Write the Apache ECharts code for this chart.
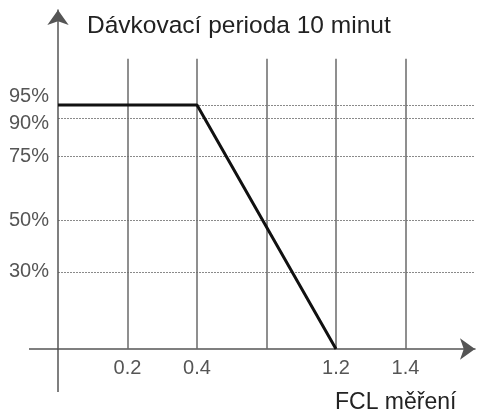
<!DOCTYPE html>
<html>
<head>
<meta charset="utf-8">
<script src="https://cdn.jsdelivr.net/npm/echarts@6/dist/echarts.min.js"></script>
<style>
  html, body { margin: 0; padding: 0; background: #fff; }
  #chart { width: 477px; height: 412px; }
</style>
</head>
<body>
<div id="chart"></div>
<script>
  // x grid positions (unlabeled ones left blank, as in the picture)
  const xLabels = ['', '0.2', '0.4', '', '1.2', '1.4', ''];
  // dosing share (%) at each x position, null = no point (line is connected)
  const dose = [95, 95, 95, null, 0, null, null];
  // percent levels marked on the y axis
  const yLevels = [30, 50, 75, 90, 95];
  // vertical grid lines: indexes into xLabels and their top value
  const vLines = [1, 2, 3, 4, 5];
  const vTop = 113;

  const chart = echarts.init(document.getElementById('chart'));
  const font = 'Liberation Sans, Arial, sans-serif';
  const axisColor = '#555';
  const yMax = 132;

  const labelStyle = {
    margin: 9,
    hideOverlap: false,
    fontFamily: font,
    fontSize: 20,
    color: '#555'
  };

  chart.setOption({
    animation: false,
    title: [{
      text: 'Dávkovací perioda 10 minut',
      left: 82,
      top: 9,
      textStyle: { fontFamily: font, fontSize: 24.5, fontWeight: 'normal', color: '#222' }
    }, {
      text: 'FCL měření',
      left: 330,
      top: 386,
      textStyle: { fontFamily: font, fontSize: 23, fontWeight: 'normal', color: '#222' }
    }],
    grid: { left: 58, right: 2, top: 10, bottom: 63, outerBoundsMode: 'none' },
    xAxis: {
      type: 'category',
      data: xLabels,
      boundaryGap: false,
      axisLine: {
        symbol: ['none', 'arrow'],
        symbolSize: [16, 15],
        lineStyle: { color: axisColor, width: 1.5 }
      },
      axisTick: { show: false },
      axisLabel: { interval: 0, margin: 9, fontFamily: font, fontSize: 20, color: '#555', hideOverlap: false },
      splitLine: { show: false }
    },
    yAxis: [{
      type: 'value',
      min: 0,
      max: yMax,
      axisLine: {
        show: true,
        symbol: ['none', 'arrow'],
        symbolSize: [16, 15],
        lineStyle: { color: axisColor, width: 1.5 }
      },
      axisTick: { show: false, customValues: yLevels },
      axisLabel: Object.assign({
        customValues: yLevels.slice(0, -1),
        formatter: v => (v === 90 ? '{lo|' + v + '%}' : v + '%'),
        rich: { lo: { fontFamily: font, fontSize: 20, color: '#555', padding: [12, 0, 0, 0] } }
      }, labelStyle),
      splitLine: {
        show: true,
        lineStyle: { color: '#8a8a8a', width: 1, type: [2, 1] }
      }
    }, {
      // top level label sits on its own axis so it is not dropped as overlapping
      type: 'value',
      position: 'left',
      min: 0,
      max: yMax,
      axisLine: { show: false },
      axisTick: { show: false, customValues: yLevels.slice(-1) },
      splitLine: { show: false },
      axisLabel: Object.assign({
        customValues: yLevels.slice(-1),
        formatter: '{value}%',
        verticalAlign: 'bottom',
        lineHeight: 18
      }, labelStyle)
    }],
    series: [{
      type: 'line',
      data: dose,
      connectNulls: true,
      symbol: 'none',
      z: 5,
      lineStyle: { color: '#111', width: 3 },
      markLine: {
        silent: true,
        symbol: 'none',
        label: { show: false },
        lineStyle: { color: '#6a6a6a', width: 1.5, type: 'solid' },
        data: vLines.map(i => [{ coord: [i, 0] }, { coord: [i, vTop] }])
      }
    }]
  });

  // axis stubs: x axis continues left of the y axis, y axis continues below the x axis
  const origin = chart.convertToPixel({ gridIndex: 0 }, [0, 0]);
  chart.setOption({
    graphic: [{
      type: 'line',
      shape: { x1: origin[0] - 29, y1: origin[1], x2: origin[0], y2: origin[1] },
      style: { stroke: axisColor, lineWidth: 1.5 }
    }, {
      type: 'line',
      shape: { x1: origin[0], y1: origin[1], x2: origin[0], y2: origin[1] + 43 },
      style: { stroke: axisColor, lineWidth: 1.5 }
    }]
  });
</script>
</body>
</html>
